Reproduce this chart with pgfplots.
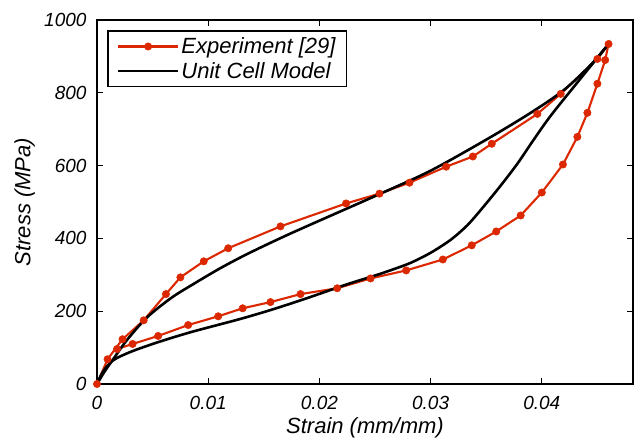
\documentclass[border=0pt]{standalone}
\usepackage{pgfplots}
\pgfplotsset{compat=1.18}
\usepackage{fontspec}
\setmainfont{Liberation Sans}
\definecolor{expred}{RGB}{220,40,0}
\begin{document}
\begin{tikzpicture}
\begin{axis}[
  scale only axis,
  width=536bp, height=364bp,
  xmin=0, xmax=0.0482, ymin=0, ymax=1000,
  xtick={0,0.01,0.02,0.03,0.04},
  xticklabels={0,0.01,0.02,0.03,0.04},
  ytick={0,200,400,600,800,1000},
  yticklabels={0,200,400,600,800,1000},
  scaled x ticks=false,
  /pgf/number format/assume math mode=true,
  tick label style={font=\fontsize{19bp}{22bp}\selectfont\itshape},
  xticklabel style={yshift=-9bp},
  yticklabel style={xshift=-7bp},
  label style={font=\fontsize{22bp}{26bp}\selectfont\itshape},
  xlabel={Strain (mm/mm)}, ylabel={Stress (MPa)},
  xlabel style={at={(axis description cs:0.5,-0.121)}, anchor=center},
  ylabel style={at={(axis description cs:-0.135,0.5)}, anchor=center},
  tick align=inside, major tick length=6bp,
  axis line style={line width=1.6bp},
  every tick/.style={line width=1.2bp, black},
  legend style={at={(0.0187,0.9725)}, anchor=north west, line width=1.6bp,
    font=\fontsize{22bp}{26bp}\selectfont\itshape, inner xsep=9bp, inner ysep=5bp,
    row sep=3bp},
  legend cell align=left,
  legend image code/.code={\draw[#1] (0bp,0bp) -- (60bp,0bp) plot coordinates {(30bp,0bp)};},
]
% experiment [29]: loading then unloading
\addplot[expred, line width=2.1bp, mark=*, mark size=3.7bp, mark options={solid, fill=expred, line width=0.5bp}] coordinates {
(0,0) (0.00095,68) (0.0023,123) (0.0042,175) (0.0062,247) (0.0075,293)
(0.0096,337) (0.0118,373) (0.0165,433) (0.0224,496) (0.0254,523) (0.0281,553)
(0.0314,597) (0.0338,625) (0.0355,660) (0.0396,742) (0.0417,797) (0.0450,893)
(0.0460,934)
(0.0457,890) (0.0450,825) (0.0441,745) (0.0432,679) (0.0419,603) (0.0400,526)
(0.0381,463) (0.0359,419) (0.0337,381) (0.0311,342) (0.0278,312) (0.0246,290)
(0.0216,263) (0.0183,247) (0.0156,225) (0.0131,208) (0.0109,186) (0.0082,162)
(0.0055,132) (0.0032,110) (0.0018,96)
};
\addlegendentry{Experiment [29]}
% unit cell model, loading
\addplot[black, line width=2.6bp, smooth, tension=0.5] coordinates {
(0,0) (0.0007,35) (0.0015,70) (0.0027,121) (0.0045,183) (0.0067,237)
(0.0088,277) (0.0112,320) (0.0137,360) (0.0173,412) (0.0221,477) (0.0255,523)
(0.0300,586) (0.0351,673) (0.0390,745) (0.0420,808) (0.0445,880) (0.0460,934)
};
\addlegendentry{Unit Cell Model}
% unit cell model, unloading
\addplot[black, line width=2.6bp, smooth, tension=0.5, forget plot] coordinates {
(0.0460,934) (0.0434,836) (0.0408,737) (0.0392,668) (0.0378,605) (0.0363,545)
(0.0347,485) (0.0333,436) (0.0318,396) (0.0302,364) (0.0291,346) (0.0279,329)
(0.0255,303) (0.0225,274) (0.0189,236) (0.0158,205) (0.0128,178) (0.0085,143)
(0.0055,115) (0.0030,88) (0.0014,64) (0.0005,32) (0,0)
};
\end{axis}
\pgfresetboundingbox
\useasboundingbox ([shift={(-97bp,-57bp)}]current axis.south west) rectangle ([shift={(3bp,20bp)}]current axis.north east);
\end{tikzpicture}
\end{document}
